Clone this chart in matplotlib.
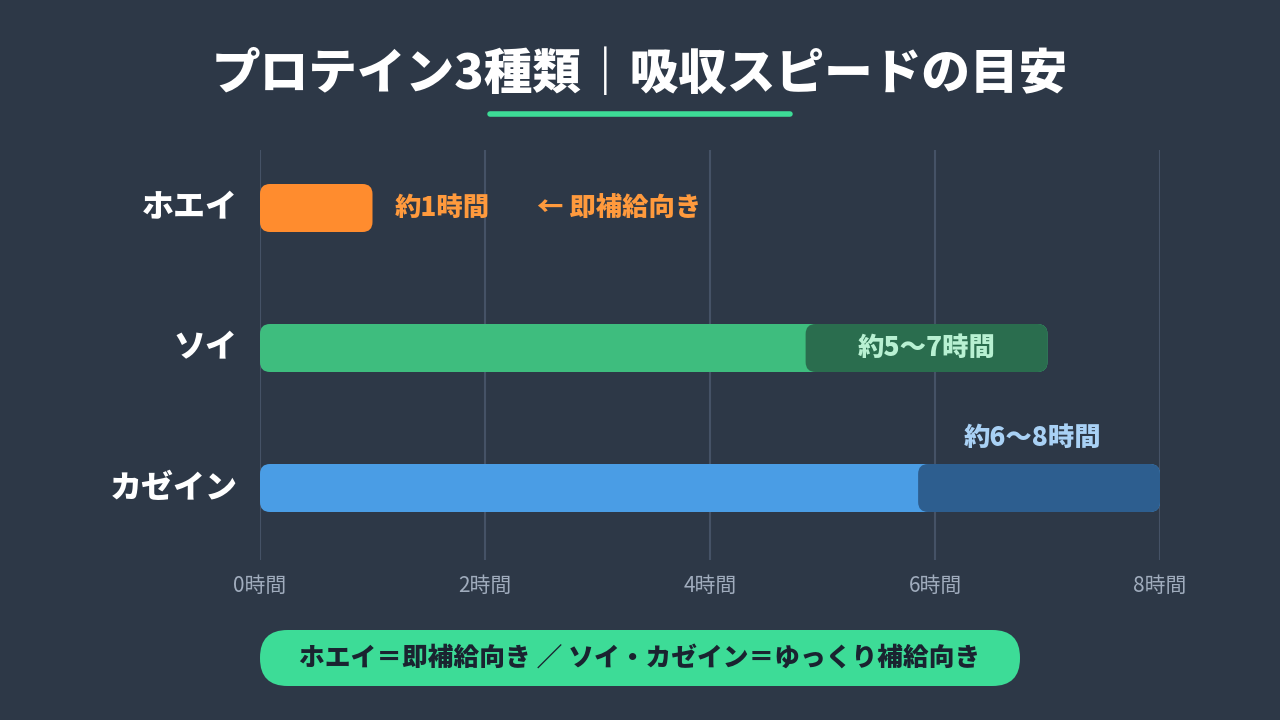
import matplotlib
matplotlib.use("Agg")
import matplotlib.pyplot as plt
from matplotlib.patches import FancyBboxPatch

plt.rcParams['font.family'] = ['Noto Sans CJK JP', 'DejaVu Sans']

# ---- data ----
categories = ["ホエイ", "ソイ", "カゼイン"]
bar_end = [1.0, 7.0, 8.0]              # total bar length (hours)
peak_start = [None, 4.85, 5.85]         # darker segment start (as drawn)
range_labels = ["約1時間", "約5〜7時間", "約6〜8時間"]
whey_note = "← 即補給向き"
xticks = [0, 2, 4, 6, 8]
xtick_labels = ["0時間", "2時間", "4時間", "6時間", "8時間"]
title = "プロテイン3種類｜吸収スピードの目安"
footer = "ホエイ＝即補給向き ／ ソイ・カゼイン＝ゆっくり補給向き"

BG = "#2d3847"
main_colors = ["#ff8c2e", "#3ebd7e", "#4a9de5"]
dark_colors = [None, "#2a6d4e", "#2d5e8f"]
label_colors = ["#ff9a3d", "#b8f0d2", "#a9d1f5"]

fig = plt.figure(figsize=(12.8, 7.2), dpi=100, facecolor=BG)
ax = fig.add_axes([260/1280, 1-560/720, 900/1280, 410/720])
ax.set_facecolor(BG)
ax.set_xlim(0, 8)
ax.set_ylim(2 + 72/140, -58/140)

for s in ax.spines.values():
    s.set_visible(False)
ax.set_xticks(xticks)
ax.set_xticklabels(xtick_labels, color="#a0acbd", fontsize=15)
ax.tick_params(axis='x', length=0, pad=11)
ax.set_yticks([])
for x in xticks:
    ax.axvline(x, color="#455266", lw=1.5, zorder=0)

bh = 48/140
aspect = 112.5/140
rs = 10/112.5

def rbar(x0, x1, y, color, z):
    p = FancyBboxPatch((x0, y - bh/2), x1 - x0, bh,
                       boxstyle=f"round,pad=0,rounding_size={rs}",
                       mutation_aspect=aspect, fc=color, ec="none", zorder=z)
    ax.add_patch(p)

for i, cat in enumerate(categories):
    rbar(0, bar_end[i], i, main_colors[i], 2)
    if peak_start[i] is not None:
        rbar(peak_start[i], bar_end[i], i, dark_colors[i], 3)
    ax.text(-0.2, i, cat, ha='right', va='center', color='white',
            fontsize=23, fontweight='heavy')

# labels
ax.text(bar_end[0] + 0.2, 0, range_labels[0], ha='left', va='center',
        color=label_colors[0], fontsize=19, fontweight='heavy')
ax.text(bar_end[0] + 1.46, 0, whey_note, ha='left', va='center',
        color=label_colors[0], fontsize=19, fontweight='heavy')
ax.text((peak_start[1] + bar_end[1]) / 2, 1, range_labels[1], ha='center', va='center',
        color=label_colors[1], fontsize=19, fontweight='heavy', zorder=5)
ax.text((peak_start[2] + bar_end[2]) / 2 - 0.06, 2 - 0.36, range_labels[2], ha='center', va='center',
        color=label_colors[2], fontsize=19, fontweight='heavy', zorder=5)

# title
fig.text(0.5, 1 - 75/720, title, ha='center', va='center', color='white',
         fontsize=35, fontweight='heavy')
fig.add_artist(plt.Line2D([490/1280, 790/1280], [1-114/720, 1-114/720],
                          color="#3ddc97", lw=4, solid_capstyle='round'))

# footer pill
pill = FancyBboxPatch((260/1280, 1-686/720), 760/1280, 56/720,
                      boxstyle="round,pad=0,rounding_size=0.0215",
                      mutation_aspect=(1280/720),
                      transform=fig.transFigure, fc="#3ddc97", ec="none")
fig.add_artist(pill)
fig.text(640/1280, 1-658/720, footer, ha='center', va='center',
         color="#1a2330", fontsize=18.5, fontweight='heavy')

fig.savefig("out.png", dpi=100, facecolor=BG)
